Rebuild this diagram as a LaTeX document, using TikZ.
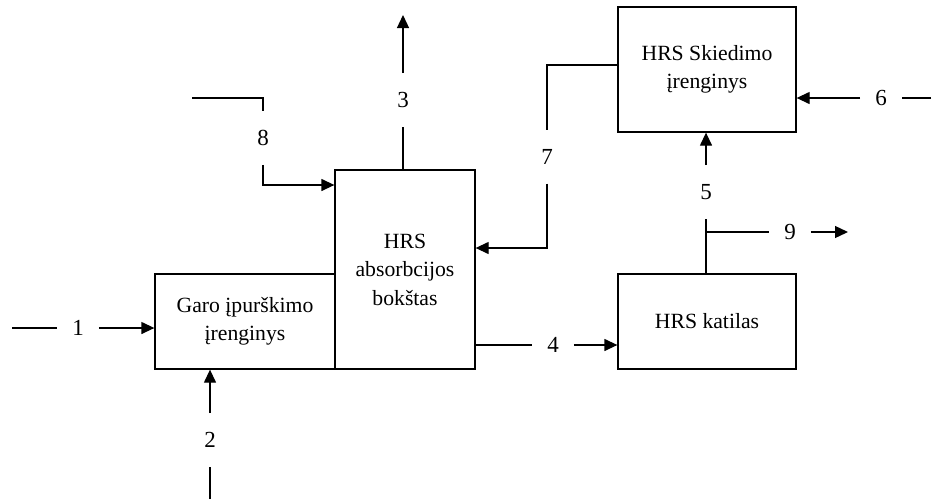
\documentclass[tikz,border=0pt]{standalone}
\usepackage{fontspec}
\setmainfont{Liberation Serif}
\usetikzlibrary{arrows.meta}
\begin{document}
\begin{tikzpicture}[x=1pt,y=-1pt,
  box/.style={draw, line width=1.3pt, inner sep=0pt, align=center, font=\fontsize{21.7}{28.5}\selectfont},
  lbl/.style={font=\fontsize{23}{28}\selectfont, inner xsep=15pt, inner ysep=19pt},
  ln/.style={line width=1.3pt},
  arr/.style={ln, -{Triangle[length=13pt,width=12pt]}}]
\useasboundingbox (0,0) rectangle (933,499);
% boxes
\node[box, minimum width=180pt, minimum height=95pt] (garo) at (245,321.5) {Garo įpurškimo\\įrenginys};
\node[box, minimum width=140pt, minimum height=199pt] (absorb) at (405,269.5) {HRS\\absorbcijos\\bokštas};
\node[box, minimum width=178pt, minimum height=95pt] (katilas) at (707,321.5) {HRS katilas};
\node[box, minimum width=178pt, minimum height=125pt] (skied) at (707,69.5) {HRS Skiedimo\\įrenginys};
% 1
\coordinate (s1) at (12,328);
\node[lbl] (l1) at (78,328) {1};
\draw[ln] (s1) -- (l1);
\draw[arr] (l1) -- (garo.west |- l1);
% 2
\coordinate (s2) at (210,499);
\node[lbl] (l2) at (210,440) {2};
\draw[ln] (s2) -- (l2);
\draw[arr] (l2) -- (garo.south -| l2);
% 3
\node[lbl] (l3) at (403,100) {3};
\coordinate (e3) at (403,15);
\draw[ln] (absorb.north -| l3) -- (l3);
\draw[arr] (l3) -- (e3);
% 8
\coordinate (s8) at (192,98);
\coordinate (k8) at (263,98);
\node[lbl] (l8) at (263,138) {8};
\coordinate (k8b) at (263,185);
\draw[ln] (s8) -- (k8) -- (l8);
\draw[arr] (l8) -- (k8b) -- (absorb.west |- k8b);
% 7
\coordinate (k7a) at (547,65);
\node[lbl] (l7) at (547,157) {7};
\coordinate (k7b) at (547,248);
\draw[ln] (skied.west |- k7a) -- (k7a) -- (l7);
\draw[arr] (l7) -- (k7b) -- (absorb.east |- k7b);
% 4
\node[lbl] (l4) at (553,345) {4};
\draw[ln] (absorb.east |- l4) -- (l4);
\draw[arr] (l4) -- (katilas.west |- l4);
% 5
\node[lbl] (l5) at (706,192) {5};
\draw[ln] (katilas.north -| l5) -- (l5);
\draw[arr] (l5) -- (skied.south -| l5);
% 9
\coordinate (b9) at (706,232);
\node[lbl] (l9) at (790,232) {9};
\coordinate (e9) at (848,232);
\draw[ln] (b9) -- (l9);
\draw[arr] (l9) -- (e9);
% 6
\coordinate (s6) at (931,98);
\node[lbl] (l6) at (881,98) {6};
\draw[ln] (s6) -- (l6);
\draw[arr] (l6) -- (skied.east |- l6);
\end{tikzpicture}
\end{document}
